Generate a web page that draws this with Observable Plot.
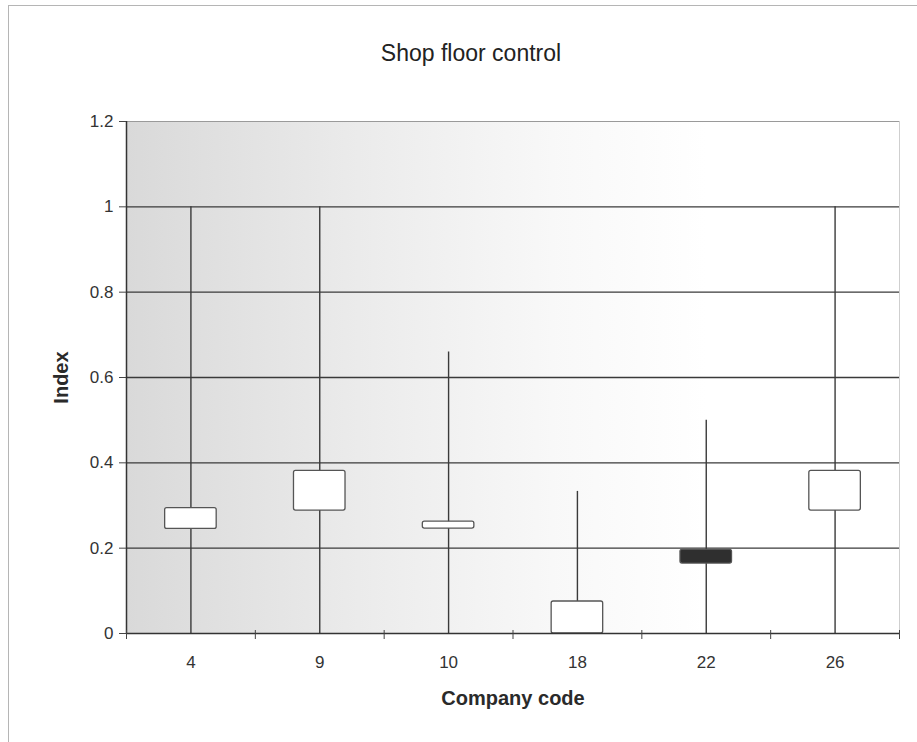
<!DOCTYPE html>
<html><head><meta charset="utf-8">
<script src="https://cdn.jsdelivr.net/npm/d3@7"></script>
<script src="https://cdn.jsdelivr.net/npm/@observablehq/plot@0.6"></script>
<style>
body{margin:0;background:#fff;}
#wrap{position:relative;width:917px;height:742px;overflow:hidden;font-family:"Liberation Sans",Arial,sans-serif;}
#border{position:absolute;left:8px;top:5px;width:920px;height:750px;border-top:1px solid #b5b5b5;border-left:1px solid #b5b5b5;}
#title{position:absolute;top:42px;left:321px;width:300px;text-align:center;font-size:23px;line-height:23px;color:#222;}
#chart{position:absolute;left:0;top:0;}
#chart svg g[aria-label="x-axis label"] text, #chart svg g[aria-label="y-axis label"] text{font-weight:bold;font-size:20px;fill:#2a2a2a;}
#chart svg g[aria-label="x-axis tick label"] text, #chart svg g[aria-label="y-axis tick label"] text{font-size:17px;fill:#333;}
</style></head><body>
<div id="wrap"><div id="border"></div><div id="title">Shop floor control</div><div id="chart"></div></div>
<script>
const companies = ["4", "9", "10", "18", "22", "26"];
const lowValues = [0, 0, 0, 0, 0, 0];
const highValues = [1, 1, 0.66, 0.333, 0.5, 1];
const openValues = [0.245, 0.288, 0.246, 0, 0.196, 0.288];
const closeValues = [0.294, 0.381, 0.262, 0.075, 0.164, 0.381];
const yTicks = [0, 0.2, 0.4, 0.6, 0.8, 1, 1.2];
const yTickLabels = ["0", "0.2", "0.4", "0.6", "0.8", "1", "1.2"];

const data = companies.map((c, i) => ({
  company: c,
  pos: i + 0.5,
  low: lowValues[i],
  high: highValues[i],
  lo: Math.min(openValues[i], closeValues[i]),
  hi: Math.max(openValues[i], closeValues[i]),
  up: closeValues[i] >= openValues[i]
}));
const boundaries = d3.range(companies.length + 1);
const gridValues = yTicks.filter(v => v > 0 && v < 1.2);
const halfBox = 0.2;

const chart = Plot.plot({
  width: 917,
  height: 742,
  marginLeft: 126,
  marginRight: 18,
  marginTop: 121,
  marginBottom: 109,
  style: {fontFamily: "'Liberation Sans', Arial, sans-serif", fontSize: "18px", color: "#333", background: "transparent"},
  x: {domain: [0, companies.length]},
  y: {domain: [0, 1.2]},
  marks: [
    Plot.frame({fill: "url(#plotbg)", stroke: "#cfcfcf", strokeWidth: 1}),
    Plot.ruleY(gridValues, {stroke: "#3a3a3a", strokeWidth: 1.3}),
    Plot.ruleY([1.2], {stroke: "#9a9a9a", strokeWidth: 1}),
    Plot.ruleX(data, {x: "pos", y1: "low", y2: "high", stroke: "#3a3a3a", strokeWidth: 1.4}),
    Plot.rect(data, {
      x1: d => d.pos - halfBox, x2: d => d.pos + halfBox,
      y1: "lo", y2: "hi",
      fill: d => d.up ? "#ffffff" : "#2f2f2f",
      stroke: "#555", strokeWidth: 1.3, rx: 2
    }),
    Plot.ruleY([0], {stroke: "#333", strokeWidth: 1.5}),
    Plot.ruleX([0], {stroke: "#333", strokeWidth: 1.5}),
    Plot.axisY({
      ticks: yTicks, tickFormat: d => yTickLabels[yTicks.indexOf(d)],
      tickSize: 7, tickPadding: 6, stroke: "#444",
      label: "Index", labelAnchor: "center", labelOffset: 73, labelArrow: "none"
    }),
    Plot.axisX({
      ticks: data.map(d => d.pos), tickFormat: d => companies[Math.floor(d)],
      tickSize: 0, tickPadding: 22,
      label: "Company code", labelAnchor: "center", labelOffset: 71, labelArrow: "none"
    }),
    Plot.axisX({ticks: boundaries, tickFormat: () => "", tickSize: 9, dy: -3, stroke: "#444", label: null})
  ]
});

const svgNS = "http://www.w3.org/2000/svg";
const defs = document.createElementNS(svgNS, "defs");
defs.innerHTML = '<linearGradient id="plotbg" x1="0" x2="1" y1="0" y2="0">' +
  '<stop offset="0" stop-color="#d9d9d9"/><stop offset="0.3" stop-color="#ebebeb"/>' +
  '<stop offset="0.55" stop-color="#f8f8f8"/><stop offset="0.75" stop-color="#ffffff"/><stop offset="1" stop-color="#ffffff"/></linearGradient>';
chart.insertBefore(defs, chart.firstChild);
document.getElementById("chart").appendChild(chart);
</script>
</body></html>
